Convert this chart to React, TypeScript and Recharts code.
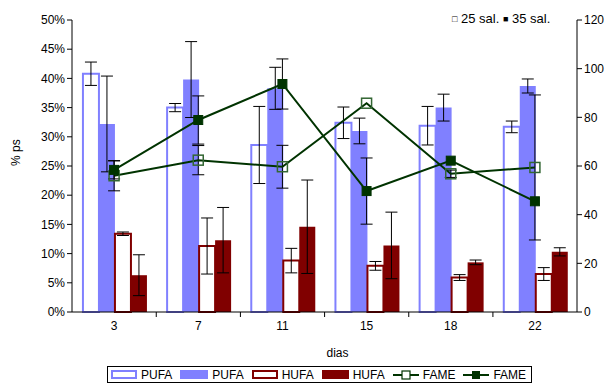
import React from 'react';
import {
    ComposedChart,
    Bar,
    Line,
    XAxis,
    YAxis,
    ErrorBar,
    Legend,
} from 'recharts';

// dias de cultivo
const days = ['3', '7', '11', '15', '18', '22'];

// % ps
const pufa25 = [40.8, 35.0, 28.6, 32.4, 31.9, 31.7];
const pufa25Err = [2.0, 0.7, 6.6, 2.7, 3.3, 1.0];
const pufa35 = [32.2, 39.8, 38.3, 31.0, 35.0, 38.7];
const pufa35Err = [8.2, 6.5, 3.6, 2.2, 2.3, 1.2];
const hufa25 = [13.4, 11.3, 8.8, 7.9, 5.9, 6.5];
const hufa25Err = [0.3, 4.8, 2.1, 0.75, 0.5, 1.1];
const hufa35 = [6.3, 12.3, 14.6, 11.4, 8.5, 10.3];
const hufa35Err = [3.5, 5.6, 8.0, 5.7, 0.4, 0.7];

// FAME (eixo direito)
const fame25 = [56.0, 62.4, 59.7, 85.8, 56.8, 59.4];
const fame25Err = [6.2, 6.0, 8.8, null, 1.5, 29.8];
const fame35 = [58.4, 78.9, 93.7, 49.7, 62.2, 45.5];
const fame35Err = [3.7, 9.9, 10.3, 13.6, null, null];

const leftTicks = [0, 5, 10, 15, 20, 25, 30, 35, 40, 45, 50];
const rightTicks = [0, 20, 40, 60, 80, 100, 120];

const data = days.map((d, i) => ({
    dia: d,
    pufa25: pufa25[i],
    pufa25Err: pufa25Err[i],
    pufa35: pufa35[i],
    pufa35Err: pufa35Err[i],
    hufa25: hufa25[i],
    hufa25Err: hufa25Err[i],
    hufa35: hufa35[i],
    hufa35Err: hufa35Err[i],
    fame25: fame25[i],
    fame25Err: fame25Err[i],
    fame35: fame35[i],
    fame35Err: fame35Err[i],
}));

const BLUE = '#8080ff';
const RED = '#800000';
const GREEN = '#003300';
const FONT = 'Arial, "Liberation Sans", sans-serif';

const OpenSquare = (props: any) => {
    const { cx, cy } = props;
    if (cx == null || cy == null) return null;
    return <rect x={cx - 5} y={cy - 5} width={10} height={10} fill="none" stroke="#336633" strokeWidth={1.5} />;
};

const FilledSquare = (props: any) => {
    const { cx, cy } = props;
    if (cx == null || cy == null) return null;
    return <rect x={cx - 4.5} y={cy - 4.5} width={9} height={9} fill={GREEN} stroke={GREEN} />;
};

// tick do eixo x entre categorias
const DayTick = (props: any) => {
    const { x, y, payload, index } = props;
    const half = 42;
    return (
        <g>
            {index > 0 && <line x1={x - half} x2={x - half} y1={y - 8} y2={y - 3} stroke="#000" />}
            <text x={x} y={y + 10} textAnchor="middle" fontSize={12} fill="#000" fontFamily={FONT}>
                {payload.value}
            </text>
        </g>
    );
};

const Swatch = ({ kind }: { kind: string }) => {
    if (kind === 'pufa25') return <svg width={26} height={9}><rect x={1} y={1} width={24} height={7} fill="#fff" stroke={BLUE} strokeWidth={2} /></svg>;
    if (kind === 'pufa35') return <svg width={28} height={9}><rect x={0} y={0} width={28} height={9} fill={BLUE} /></svg>;
    if (kind === 'hufa25') return <svg width={26} height={9}><rect x={1} y={1} width={24} height={7} fill="#fff" stroke={RED} strokeWidth={2} /></svg>;
    if (kind === 'hufa35') return <svg width={27} height={9}><rect x={0} y={0} width={27} height={9} fill={RED} /></svg>;
    if (kind === 'fame25') return (
        <svg width={26} height={10}>
            <line x1={0} x2={26} y1={5} y2={5} stroke={GREEN} strokeWidth={2} />
            <rect x={9} y={1} width={8} height={8} fill="#fff" stroke={GREEN} strokeWidth={1.2} />
        </svg>
    );
    return (
        <svg width={26} height={10}>
            <line x1={0} x2={26} y1={5} y2={5} stroke={GREEN} strokeWidth={2} />
            <rect x={9} y={1} width={8} height={8} fill={GREEN} />
        </svg>
    );
};

const legendItems = [
    { kind: 'pufa25', label: 'PUFA' },
    { kind: 'pufa35', label: 'PUFA' },
    { kind: 'hufa25', label: 'HUFA' },
    { kind: 'hufa35', label: 'HUFA' },
    { kind: 'fame25', label: 'FAME' },
    { kind: 'fame35', label: 'FAME' },
];

const LegendBox = () => (
    <div style={{ width: 610, height: 18 }}>
        <div
            style={{
                marginLeft: 107,
                width: 425,
                height: 17,
                border: '1px solid #000',
                boxSizing: 'border-box',
                display: 'flex',
                alignItems: 'center',
                paddingLeft: 3,
                fontFamily: FONT,
                fontSize: 12,
                color: '#000',
            }}
        >
            {legendItems.map((it, i) => (
                <div key={i} style={{ display: 'flex', alignItems: 'center', marginRight: 8 }}>
                    <Swatch kind={it.kind} />
                    <span style={{ marginLeft: 4 }}>{it.label}</span>
                </div>
            ))}
        </div>
    </div>
);

export default function App() {
    return (
        <div style={{ position: 'absolute', left: 0, top: 0, width: 610, height: 385, background: '#fff', fontFamily: FONT }}>
            <ComposedChart
                width={610}
                height={385}
                data={data}
                margin={{ top: 20, right: 0, left: 0, bottom: 1 }}
                barGap={0}
                barCategoryGap="13%"
            >
                <XAxis
                    dataKey="dia"
                    height={54}
                    stroke="#000"
                    tickLine={false}
                    tick={<DayTick />}
                    label={{ value: 'dias', position: 'insideBottom', offset: 9, dx: 13, fontSize: 12, fill: '#000' }}
                />
                <YAxis
                    yAxisId="left"
                    width={72}
                    domain={[0, 50]}
                    ticks={leftTicks}
                    interval={0}
                    tickFormatter={(v) => `${v}%`}
                    stroke="#000"
                    tickSize={5}
                    tick={{ fontSize: 12, fill: '#000' }}
                    label={{ value: '% ps', angle: -90, position: 'insideLeft', offset: 16, fontSize: 12, fill: '#000' }}
                />
                <YAxis
                    yAxisId="right"
                    orientation="right"
                    width={33}
                    domain={[0, 120]}
                    ticks={rightTicks}
                    interval={0}
                    stroke="#000"
                    tickSize={5}
                    tick={{ fontSize: 12, fill: '#000' }}
                />
                <Legend verticalAlign="bottom" content={() => <LegendBox />} />
                <Bar yAxisId="left" dataKey="pufa25" name="PUFA" fill="#fff" stroke={BLUE} strokeWidth={2} isAnimationActive={false}>
                    <ErrorBar dataKey="pufa25Err" width={6} stroke="#000" strokeWidth={1} />
                </Bar>
                <Bar yAxisId="left" dataKey="pufa35" name="PUFA" fill={BLUE} isAnimationActive={false}>
                    <ErrorBar dataKey="pufa35Err" width={6} stroke="#000" strokeWidth={1} />
                </Bar>
                <Bar yAxisId="left" dataKey="hufa25" name="HUFA" fill="#fff" stroke={RED} strokeWidth={2} isAnimationActive={false}>
                    <ErrorBar dataKey="hufa25Err" width={6} stroke="#000" strokeWidth={1} />
                </Bar>
                <Bar yAxisId="left" dataKey="hufa35" name="HUFA" fill={RED} isAnimationActive={false}>
                    <ErrorBar dataKey="hufa35Err" width={6} stroke="#000" strokeWidth={1} />
                </Bar>
                <Line
                    yAxisId="right"
                    dataKey="fame25"
                    name="FAME"
                    stroke={GREEN}
                    strokeWidth={2}
                    dot={<OpenSquare />}
                    activeDot={false}
                    isAnimationActive={false}
                >
                    <ErrorBar dataKey="fame25Err" width={6} stroke="#000" strokeWidth={1} />
                </Line>
                <Line
                    yAxisId="right"
                    dataKey="fame35"
                    name="FAME"
                    stroke={GREEN}
                    strokeWidth={2}
                    dot={<FilledSquare />}
                    activeDot={false}
                    isAnimationActive={false}
                >
                    <ErrorBar dataKey="fame35Err" width={6} stroke="#000" strokeWidth={1} />
                </Line>
            </ComposedChart>
            <div
                style={{
                    position: 'absolute',
                    left: 452,
                    top: 11,
                    fontSize: 13,
                    color: '#000',
                    whiteSpace: 'nowrap',
                    fontFamily: FONT,
                }}
            >
                <span style={{ fontSize: 9, verticalAlign: 1 }}>□</span> 25 sal.{' '}
                <span style={{ fontSize: 9, verticalAlign: 1 }}>■</span> 35 sal.
            </div>
        </div>
    );
}
